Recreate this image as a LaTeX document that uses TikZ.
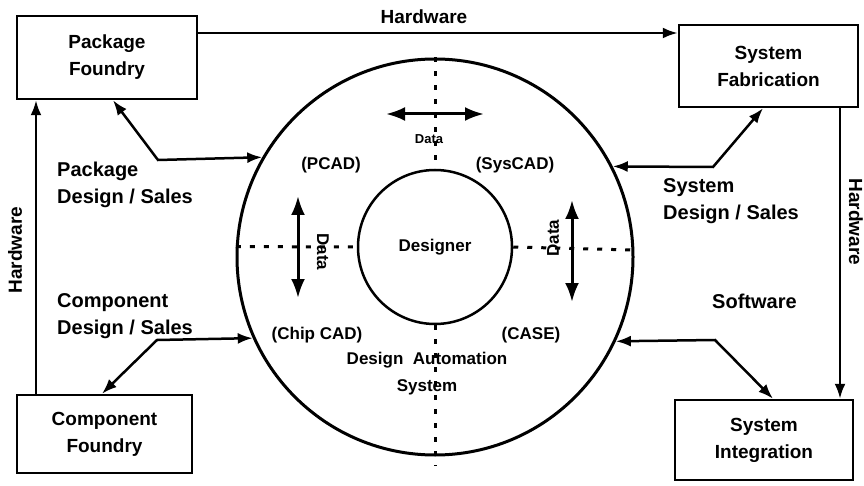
\documentclass[tikz,border=0pt]{standalone}
\usepackage{fontspec}
\setmainfont{Liberation Sans}
\usetikzlibrary{arrows.meta,calc}
\begin{document}
\begin{tikzpicture}[x=1pt,y=-1pt,
  box/.style={draw, line width=2.5pt, align=center, inner sep=0pt,
    font=\fontsize{19}{27}\selectfont\bfseries},
  lbl/.style={font=\fontsize{20}{27}\selectfont\bfseries, align=left, inner sep=0pt},
  inlbl/.style={font=\fontsize{17}{27}\selectfont\bfseries, inner sep=0pt, align=center},
  hwlbl/.style={font=\fontsize{19}{23}\selectfont\bfseries, inner sep=0pt},
  tipc/.tip={Latex[length=15pt,width=11pt]},
  tipd/.tip={Latex[length=19pt,width=14pt]},
  conn/.style={line width=2.5pt, -tipc},
  dconn/.style={line width=2.5pt, tipc-tipc},
  datarr/.style={line width=3pt, tipd-tipd},
  dotline/.style={line width=3pt, dash pattern=on 5pt off 9pt}
]
\path[fill=white] (0,0) rectangle (864,486);
\useasboundingbox (0,0) rectangle (864,486);

% boxes
\node[box, minimum width=180pt, minimum height=83pt] (pf) at (107,57.5) {Package\\Foundry};
\node[box, minimum width=179pt, minimum height=82pt] (sf) at (768.5,66) {System\\Fabrication};
\node[box, minimum width=175pt, minimum height=78pt] (cf) at (104.5,434) {Component\\Foundry};
\node[box, minimum width=178pt, minimum height=80pt] (si) at (764,440) {System\\Integration};

% circles
\node[circle, draw, line width=3pt, minimum size=396pt, inner sep=0pt] (dac) at (435,257) {};
\node[circle, draw, line width=2.5pt, minimum size=154pt, inner sep=0pt,
  font=\fontsize{17}{20}\selectfont\bfseries] (des) at (435,247) {Designer};

% dotted axes
\coordinate (vb) at (435,466);
\draw[dotline] (dac.north) -- (des.north);
\draw[dotline] (des.south) -- (vb);
\draw[dotline] (dac.177.1) -- (des.west);
\draw[dotline] (des.east) -- (dac.2.9);

% data arrows
\coordinate (dt1) at (386,114);
\coordinate (dt2) at (484,114);
\coordinate (dl1) at (298,196);
\coordinate (dl2) at (298,298);
\coordinate (dr1) at (572,200);
\coordinate (dr2) at (572,302);
\draw[datarr] (dt1) -- (dt2);
\draw[datarr] (dl1) -- (dl2);
\draw[datarr] (dr1) -- (dr2);
\node[font=\fontsize{13}{15}\selectfont\bfseries, inner sep=0pt] (dtl) at (429,139) {Data};
\node[inlbl, rotate=-90] (dll) at (323,252) {Data};
\node[inlbl, rotate=90] (drl) at (553,238) {Data};

% inner labels
\node[inlbl] (pcad) at (331,165) {(PCAD)};
\node[inlbl] (syscad) at (515,165) {(SysCAD)};
\node[inlbl] (chipcad) at (317,335) {(Chip CAD)};
\node[inlbl] (case) at (531,335) {(CASE)};
\node[inlbl] (das) at (427,374) {Design\ \ Automation\\System};

% hardware connectors
\coordinate (hwT) at (0,33);
\coordinate (hwL) at (36,0);
\coordinate (hwR) at (840,0);
\draw[conn] (pf.east |- hwT) -- (sf.west |- hwT);
\draw[conn] (cf.north -| hwL) -- (pf.south -| hwL);
\draw[conn] (sf.south -| hwR) -- (si.north -| hwR);
\node[hwlbl] (hwTl) at (424,17) {Hardware};
\node[hwlbl, rotate=90] (hwLl) at (15,250) {Hardware};
\node[hwlbl, rotate=-90] (hwRl) at (856,222) {Hardware};

% design / sales connectors
\coordinate (pb) at (113,0);
\coordinate (pk) at (158,160);
\draw[dconn] (pf.south -| pb) -- (pk) -- (dac.150.7);
\coordinate (sb) at (763,0);
\coordinate (sk) at (713,167);
\draw[dconn] (sf.south -| sb) -- (sk) -- (dac.27);
\coordinate (cb) at (102,0);
\coordinate (ck) at (157,340);
\draw[dconn] (cf.north -| cb) -- (ck) -- (dac.204.8);
\coordinate (wb) at (773,0);
\coordinate (wk) at (715,340);
\draw[dconn] (si.north -| wb) -- (wk) -- (dac.335.2);

% side labels
\node[lbl, anchor=west] (pds) at (57,185) {Package\\Design / Sales};
\node[lbl, anchor=west] (cds) at (57,316) {Component\\Design / Sales};
\node[lbl, anchor=west] (sds) at (663,201) {System\\Design / Sales};
\node[lbl, anchor=west] (sw) at (712,301) {Software};
\end{tikzpicture}
\end{document}
